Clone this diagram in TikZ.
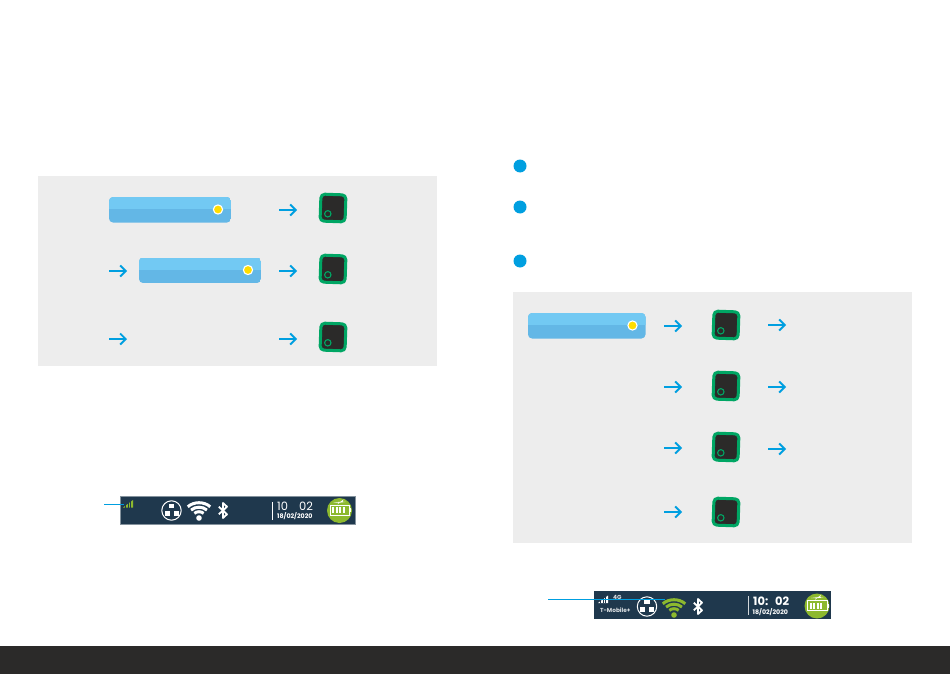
\documentclass[tikz,border=0pt]{standalone}
\usepackage{fontspec}
\setmainfont{Poppins}
\usetikzlibrary{arrows.meta}
\definecolor{cyanA}{HTML}{009FE0}
\definecolor{panelG}{HTML}{EDEDED}
\definecolor{darkB}{HTML}{2B2A29}
\definecolor{greenD}{HTML}{00A664}
\definecolor{btnT}{HTML}{72C9F3}
\definecolor{btnB}{HTML}{63B7E6}
\definecolor{barB}{HTML}{1F384D}
\definecolor{limeG}{HTML}{8DB92E}
\definecolor{ledY}{HTML}{FFDD00}
\tikzset{
  x=1pt,y=-1pt,
  flow/.style={draw=cyanA,line width=1.9pt,-{Straight Barb[length=5.5pt,width=11pt,line width=1.9pt]}},
  leader/.style={draw=cyanA,line width=.9pt},
  bulletdot/.style={circle,fill=cyanA,minimum size=13pt,inner sep=0pt},
  bartime/.style={text=white,font=\fontsize{11.5}{12}\selectfont,inner sep=0pt},
  bartimeb/.style={text=white,font=\bfseries\fontsize{11.5}{12}\selectfont,inner sep=0pt},
  bardate/.style={text=white,font=\bfseries\fontsize{6.3}{7}\selectfont,inner sep=0pt},
  smalltxt/.style={text=white!85!barB,font=\bfseries\fontsize{5.8}{7}\selectfont,inner sep=0pt},
  pics/fbtn/.style={code={
    \begin{scope}
      \clip[rounded corners=4pt] (0,0) rectangle (#1,25.5);
      \fill[btnB] (0,0) rectangle (#1,25.5);
      \fill[btnT] (0,0) rectangle (#1,12);
    \end{scope}
    \fill[ledY,draw=white,line width=1.1pt] (#1-13,12.5) circle (4.6pt);
  }},
  pics/dev/.style={code={
    \begin{scope}[rotate=#1]
      \fill[darkB,draw=greenD,line width=3pt,rounded corners=4pt] (-12.5,-13.5) rectangle (12.5,13.5);
      \draw[greenD,line width=1.1pt] (-5,6) circle (3.2pt);
    \end{scope}
  }}
}
\newcommand{\wifiarcs}[3]{% x y colour
  \fill[#3] (#1,#2) circle (2.8pt);
  \foreach \r in {7,12,17}{\draw[#3,line width=3pt] ({#1-\r*0.66},{#2-\r*0.66}) .. controls ({#1-\r*0.3},{#2-\r*0.98}) and ({#1+\r*0.3},{#2-\r*0.98}) .. ({#1+\r*0.66},{#2-\r*0.66});}
}
\newcommand{\plugicon}[2]{%
  \draw[white,line width=1pt] (#1,#2) circle (9.7pt);
  \fill[white] (#1-2.6,#2-6.8) rectangle (#1+2.6,#2-2.6);
  \fill[white] (#1-7,#2+.8) rectangle (#1-2,#2+5);
  \fill[white] (#1+2,#2+.8) rectangle (#1+7,#2+5);
}
\newcommand{\btooth}[2]{%
  \draw[white,line width=1.8pt,line join=round] (#1-4.2,#2-3.8) -- (#1+4,#2+3.8) -- (#1,#2+7.5) -- (#1,#2-7.5) -- (#1+4,#2-3.8) -- (#1-4.2,#2+3.8);
}
\newcommand{\battery}[2]{%
  \fill[limeG] (#1,#2) circle (12.5pt);
  \draw[white,line width=1pt] (#1-9.5,#2-5.5) rectangle (#1+10,#2+4.5);
  \fill[white] (#1+10,#2-2.5) rectangle (#1+11.5,#2+1.5);
  \foreach \d in {-7.5,-4,-.5,3}{\fill[white] (#1+\d,#2-3.5) rectangle (#1+\d+2.3,#2+2.8);}
  \fill[white] (#1-6,#2-8) -- (#1+1,#2-8.8) -- (#1+4,#2-11) -- (#1+3,#2-8.8) -- (#1+6.5,#2-8.6) -- (#1,#2-7.8) -- (#1-2,#2-6.2) -- (#1-1,#2-7.8) -- cycle;
}
\newcommand{\signal}[3]{%
  \fill[#3] (#1,#2) -- (#1+10,#2-7.5) -- (#1+10,#2) -- cycle;
  \foreach \i in {1,2,3}{\draw[barB,line width=.25pt] ({#1+\i*2.5},#2) -- ({#1+\i*2.5},#2-8);}
}
\begin{document}
\begin{tikzpicture}
\useasboundingbox (0,0) rectangle (950,674);
\fill[white] (0,0) rectangle (950,674);
\fill[darkB] (0,646) rectangle (950,674);
% left panel
\fill[panelG] (38,176) rectangle (437,366);
\pic at (109,197) {fbtn=122};
\pic at (139,257.5) {fbtn=122};
\pic (d1) at (333,208) {dev=-2};
\pic (d2) at (333,269) {dev=-2};
\pic (d3) at (333,337) {dev=-2};
\draw[flow] (279,210) -- (297,210);
\draw[flow] (109,271) -- (127,271);
\draw[flow] (279,271) -- (297,271);
\draw[flow] (109,339) -- (127,339);
\draw[flow] (279,339) -- (297,339);
% bullets
\node[bulletdot] (b1) at (520,166) {};
\node[bulletdot] (b2) at (520,207) {};
\node[bulletdot] (b3) at (520,261) {};
% right panel
\fill[panelG] (513,292) rectangle (912,543);
\pic at (528,313) {fbtn=117.5};
\pic (d4) at (726,325) {dev=-2};
\pic (d5) at (726,386) {dev=-2};
\pic (d6) at (726,447) {dev=-2};
\pic (d7) at (726,512) {dev=-2};
\draw[flow] (664,326) -- (682,326);
\draw[flow] (664,387) -- (682,387);
\draw[flow] (664,448) -- (682,448);
\draw[flow] (664,512) -- (682,512);
\draw[flow] (768,325) -- (786,325);
\draw[flow] (768,387) -- (786,387);
\draw[flow] (768,449) -- (786,449);
% left status bar
\fill[barB,draw=barB!55!white,line width=.5pt] (120,496) rectangle (355,524);
\signal{123}{507.5}{limeG}
\plugicon{171.5}{510.5}
\wifiarcs{199}{518}{white}
\btooth{223}{510.5}
\fill[white] (272,502) rectangle (273,519.5);
\node[bartime,anchor=west] (t1) at (277,506.5) {10};
\node[bartime,anchor=west] (t2) at (299,506.5) {02};
\node[bardate,anchor=west] (dt1) at (277,516.5) {18/02/2020};
\battery{339.5}{510.5}
\draw[leader] (104,504) -- (124,504);
% right status bar
\fill[barB] (594,591) rectangle (831,619);
\signal{598}{603}{white}
\node[smalltxt,anchor=west] (g) at (613,597.5) {4G};
\node[smalltxt,anchor=west] (tm) at (600,610.5) {T-Mobile+};
\plugicon{647}{606.5}
\wifiarcs{674}{615}{limeG}
\btooth{698}{606.5}
\fill[white!80!barB] (747.5,596) rectangle (748.5,615);
\node[bartimeb,anchor=west] (t3) at (753,601.5) {10:};
\node[bartimeb,anchor=west] (t4) at (775,601.5) {02};
\node[bardate,anchor=west] (dt2) at (752.5,612) {18/02/2020};
\battery{817}{606}
\draw[leader] (548,599) -- (665,599);
\end{tikzpicture}
\end{document}
